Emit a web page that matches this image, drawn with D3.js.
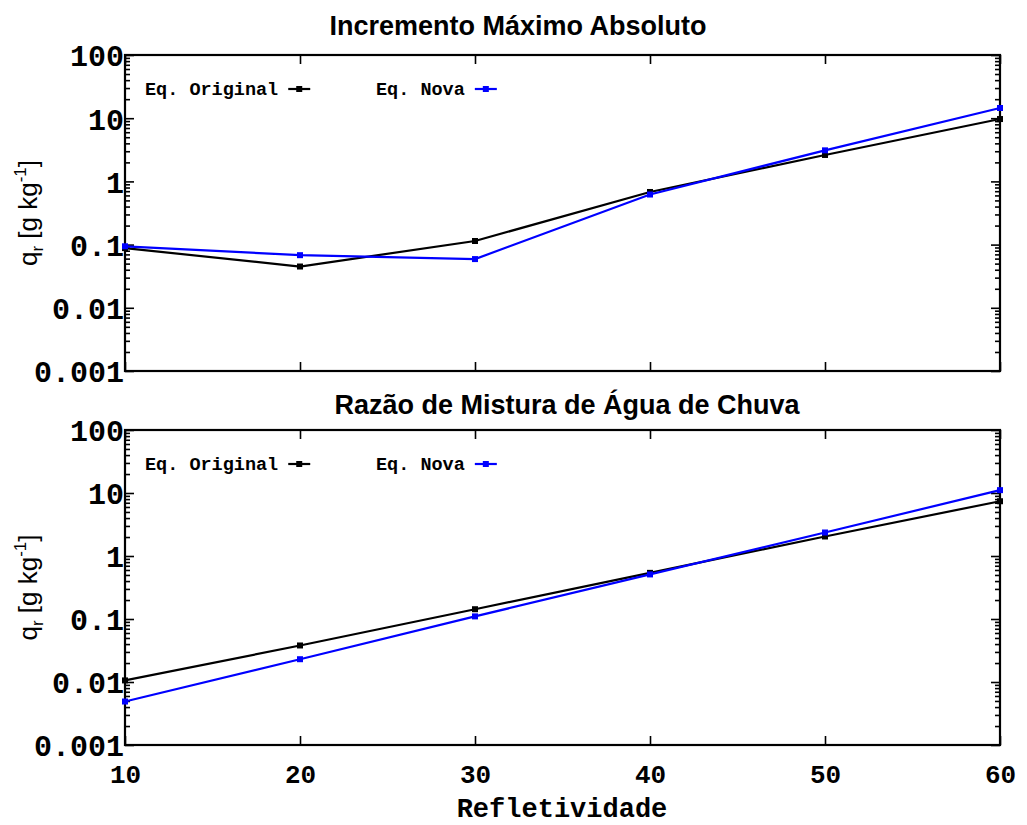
<!DOCTYPE html>
<html>
<head>
<meta charset="utf-8">
<script src="https://cdn.jsdelivr.net/npm/d3@7"></script>
<style>
body { margin: 0; background: #fff; }
.tick text { font-family: "Liberation Mono", monospace; font-weight: bold; }
</style>
</head>
<body>
<script>
// data
const refletividade = [10, 20, 30, 40, 50, 60];
const incOriginal = [0.088, 0.045, 0.114, 0.68, 2.62, 9.7];
const incNova = [0.094, 0.068, 0.059, 0.62, 3.1, 14.5];
const razaoOriginal = [0.0106, 0.038, 0.143, 0.54, 2.04, 7.4];
const razaoNova = [0.0049, 0.023, 0.11, 0.51, 2.36, 11.1];
const yTicks = [0.001, 0.01, 0.1, 1, 10, 100];
const yTickLabels = ["0.001", "0.01", "0.1", "1", "10", "100"];
const xTicks = [10, 20, 30, 40, 50, 60];
const titles = ["Incremento Máximo Absoluto", "Razão de Mistura de Água de Chuva"];
const seriesNames = ["Eq. Original", "Eq. Nova"];
const seriesColors = ["#000000", "#0000ff"];

function d3Draw() {
const width = 1027;
const height = 825;
const left = 125, right = 1000;

const svg = d3.select("body")
	.append("svg")
	.attr("width", width)
	.attr("height", height);

const x = d3.scaleLinear().domain([10, 60]).range([left, right]);

// minor ticks for log axis
const minor = [];
for (let e = -3; e < 2; e++) {
	for (let k = 2; k <= 9; k++) minor.push(k * Math.pow(10, e));
}

const panels = [
	{ top: 55, bottom: 371, title: titles[0], titleX: 518, titleY: 35, data: [incOriginal, incNova], xlabels: false },
	{ top: 430, bottom: 745, title: titles[1], titleX: 567, titleY: 414, data: [razaoOriginal, razaoNova], xlabels: true }
];

panels.forEach(function(p) {
	const y = d3.scaleLog().domain([0.001, 100]).range([p.bottom, p.top]);
	const g = svg.append("g");

	// minor ticks
	g.append("g")
		.attr("transform", "translate(" + left + ",0)")
		.call(d3.axisLeft(y).tickValues(minor).tickSize(-5).tickFormat(""))
		.call(s => s.select(".domain").remove());
	g.append("g")
		.attr("transform", "translate(" + right + ",0)")
		.call(d3.axisRight(y).tickValues(minor).tickSize(-5).tickFormat(""))
		.call(s => s.select(".domain").remove());

	// major ticks
	g.append("g")
		.attr("transform", "translate(" + left + ",0)")
		.call(d3.axisLeft(y).tickValues(yTicks).tickSize(-9).tickPadding(12)
			.tickFormat((d, i) => yTickLabels[i]))
		.call(s => s.select(".domain").remove())
		.selectAll("text")
		.attr("font-size", 30)
		.attr("fill", "#000")
		.attr("x", -1)
		.attr("dy", "0.36em");
	g.append("g")
		.attr("transform", "translate(" + right + ",0)")
		.call(d3.axisRight(y).tickValues(yTicks).tickSize(-9).tickFormat(""))
		.call(s => s.select(".domain").remove());

	const xb = g.append("g")
		.attr("transform", "translate(0," + p.bottom + ")")
		.call(d3.axisBottom(x).tickValues(xTicks).tickSize(-9).tickPadding(20))
		.call(s => s.select(".domain").remove());
	xb.selectAll("text")
		.attr("font-size", 26)
		.attr("fill", "#000")
		.attr("dy", "0.71em")
		.style("display", p.xlabels ? null : "none");
	g.append("g")
		.attr("transform", "translate(0," + p.top + ")")
		.call(d3.axisTop(x).tickValues(xTicks).tickSize(-9).tickFormat(""))
		.call(s => s.select(".domain").remove());

	g.selectAll(".tick line").attr("stroke", "#000").attr("stroke-width", 1.6);

	// frame
	g.append("rect")
		.attr("x", left)
		.attr("y", p.top)
		.attr("width", right - left)
		.attr("height", p.bottom - p.top)
		.attr("fill", "none")
		.attr("stroke", "#000")
		.attr("stroke-width", 2.2);

	// title
	svg.append("text")
		.attr("x", p.titleX)
		.attr("y", p.titleY)
		.attr("text-anchor", "middle")
		.attr("font-family", "Liberation Sans, Arial, sans-serif")
		.attr("font-weight", "bold")
		.attr("font-size", 27)
		.text(p.title);

	// y label
	const cy = (p.top + p.bottom) / 2;
	const yl = svg.append("text")
		.attr("transform", "translate(37," + cy + ") rotate(-90)")
		.attr("text-anchor", "middle")
		.attr("font-family", "Liberation Sans, Arial, sans-serif")
		.attr("font-size", 26);
	yl.append("tspan").text("q");
	yl.append("tspan").attr("font-size", 17).attr("dy", 6).text("r");
	yl.append("tspan").attr("dy", -6).text(" [g kg");
	yl.append("tspan").attr("font-size", 17).attr("dy", -11).text("-1");
	yl.append("tspan").attr("dy", 11).text("]");

	// series
	const line = d3.line()
		.x((d, i) => x(refletividade[i]))
		.y(d => y(d));

	p.data.forEach(function(vals, si) {
		g.append("path")
			.datum(vals)
			.attr("fill", "none")
			.attr("stroke", seriesColors[si])
			.attr("stroke-width", 2.2)
			.attr("d", line);
		g.selectAll(".pt" + si)
			.data(vals)
			.enter()
			.append("rect")
			.attr("x", (d, i) => x(refletividade[i]) - 3)
			.attr("y", d => y(d) - 3)
			.attr("width", 6)
			.attr("height", 6)
			.attr("fill", seriesColors[si]);
	});

	// legend
	const legX = [145, 376];
	const legY = p.top + 34;
	seriesNames.forEach(function(name, si) {
		const t = svg.append("text")
			.attr("x", legX[si])
			.attr("y", legY + 6)
			.attr("font-family", "Liberation Mono, monospace")
			.attr("font-weight", "bold")
			.attr("font-size", 18.5)
			.text(name);
		const tw = t.node().getComputedTextLength();
		const lx = legX[si] + tw + 10;
		svg.append("line")
			.attr("x1", lx)
			.attr("x2", lx + 22)
			.attr("y1", legY)
			.attr("y2", legY)
			.attr("stroke", seriesColors[si])
			.attr("stroke-width", 2.2);
		svg.append("rect")
			.attr("x", lx + 11 - 3)
			.attr("y", legY - 3)
			.attr("width", 6)
			.attr("height", 6)
			.attr("fill", seriesColors[si]);
	});
});

// x axis label
svg.append("text")
	.attr("x", 562)
	.attr("y", 817)
	.attr("text-anchor", "middle")
	.attr("font-family", "Liberation Mono, monospace")
	.attr("font-weight", "bold")
	.attr("font-size", 27)
	.text("Refletividade");
}
window.onload = d3Draw;
</script>
</body>
</html>
